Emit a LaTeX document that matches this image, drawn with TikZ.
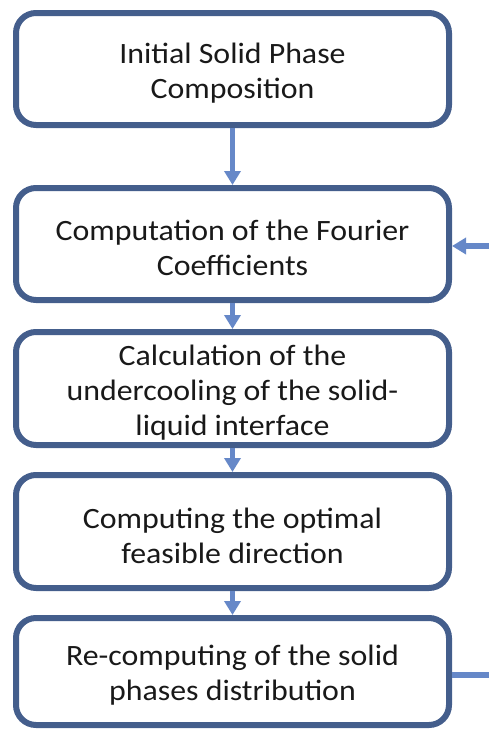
\documentclass[tikz,border=0pt]{standalone}
\usepackage{fontspec}
\setmainfont{Carlito}[FakeStretch=1.08]
\usetikzlibrary{arrows.meta}
\definecolor{boxborder}{RGB}{68,94,140}
\definecolor{arrowblue}{RGB}{102,136,200}
\begin{document}
\begin{tikzpicture}[x=1pt,y=-1pt,
  flowbox/.style={draw=boxborder, line width=6pt, rounded corners=20pt, fill=white,
    minimum width=433pt, inner sep=0pt},
  boxtext/.style={align=center, text=black!90,
    font=\fontsize{29.5}{35}\selectfont, inner sep=0pt},
  arr/.style={draw=arrowblue, line width=5.5pt, -{Triangle[width=16pt,length=14pt]}},
  plainline/.style={draw=arrowblue, line width=5.5pt}]
\useasboundingbox (0,0) rectangle (489,729);
\node[flowbox, minimum height=112pt] (b1) at (232.5,69) {};
\node[flowbox, minimum height=112pt] (b2) at (232.5,244) {};
\node[flowbox, minimum height=113pt] (b3) at (232.5,388.5) {};
\node[flowbox, minimum height=113pt] (b4) at (232.5,531.5) {};
\node[flowbox, minimum height=107pt] (b5) at (232.5,671.5) {};
\node[boxtext] (t1) at ([yshift=-4pt]b1.center) {Initial Solid Phase\\Composition};
\node[boxtext] (t2) at ([yshift=-4pt]b2.center) {Computation of the Fourier\\Coefficients};
\node[boxtext] (t3) at ([yshift=-4pt]b3.center) {Calculation of the\\undercooling of the solid-\\liquid interface};
\node[boxtext] (t4) at ([yshift=-4pt]b4.center) {Computing the optimal\\feasible direction};
\node[boxtext] (t5) at ([yshift=-4pt]b5.center) {Re-computing of the solid\\phases distribution};
\coordinate (r2) at (489,246);
\coordinate (r5) at (489,675);
\draw[arr] (b1.south) -- (b2.north);
\draw[arr] (b2.south) -- (b3.north);
\draw[arr] (b3.south) -- (b4.north);
\draw[arr] (b4.south) -- (b5.north);
\draw[arr] (r2) -- (b2.east |- r2);
\draw[plainline] (b5.east |- r5) -- (r5);
\end{tikzpicture}
\end{document}
